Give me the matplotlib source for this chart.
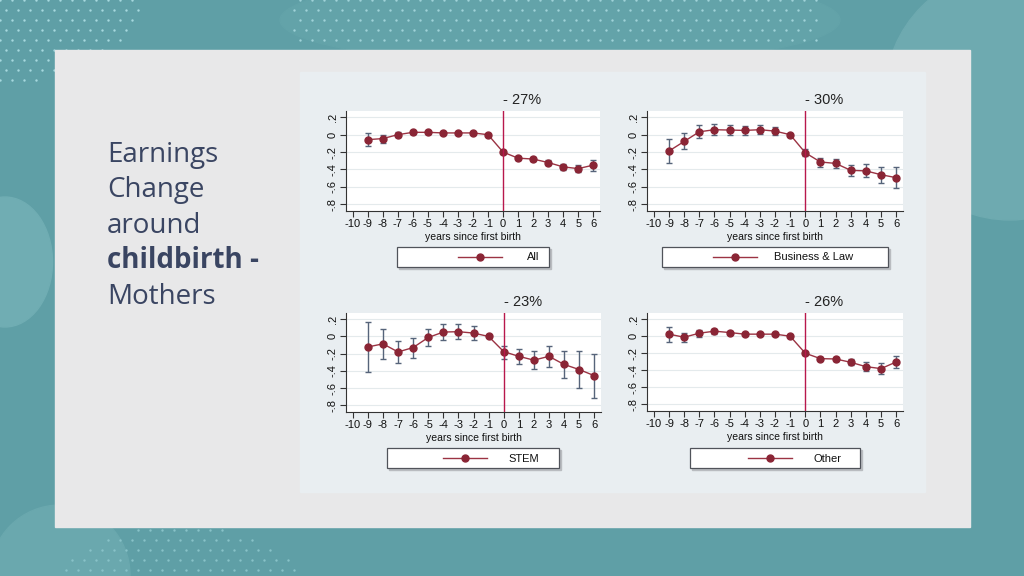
import numpy as np
import matplotlib
matplotlib.use("Agg")
import matplotlib.pyplot as plt
from matplotlib.patches import Rectangle, Circle, Ellipse
from matplotlib.lines import Line2D

# data
years = list(range(-9, 7))

y_all = [-0.057, -0.045, 0.0, 0.027, 0.027, 0.02, 0.02, 0.02, 0.0, -0.20, -0.27, -0.28, -0.32, -0.37, -0.39, -0.35]
lo_all = [-0.13, -0.09, -0.03, 0.005, 0.007, 0.005, 0.005, 0.005, 0.0, -0.22, -0.29, -0.30, -0.345, -0.405, -0.43, -0.42]
hi_all = [0.02, 0.0, 0.03, 0.045, 0.045, 0.035, 0.035, 0.035, 0.0, -0.18, -0.25, -0.26, -0.295, -0.335, -0.35, -0.29]

y_bl = [-0.188, -0.078, 0.033, 0.057, 0.053, 0.049, 0.057, 0.041, 0.0, -0.208, -0.314, -0.33, -0.41, -0.416, -0.46, -0.494]
lo_bl = [-0.327, -0.17, -0.037, -0.004, 0.0, 0.0, 0.008, -0.004, 0.0, -0.249, -0.367, -0.388, -0.478, -0.49, -0.55, -0.616]
hi_bl = [-0.049, 0.02, 0.11, 0.118, 0.11, 0.098, 0.106, 0.086, 0.0, -0.163, -0.27, -0.28, -0.343, -0.335, -0.37, -0.37]

y_st = [-0.122, -0.086, -0.18, -0.129, -0.012, 0.051, 0.055, 0.039, 0.0, -0.176, -0.231, -0.275, -0.231, -0.325, -0.384, -0.455]
lo_st = [-0.408, -0.263, -0.314, -0.247, -0.11, -0.039, -0.027, -0.039, 0.0, -0.259, -0.318, -0.38, -0.353, -0.486, -0.6, -0.714]
hi_st = [0.169, 0.09, -0.051, -0.016, 0.09, 0.149, 0.141, 0.118, 0.0, -0.11, -0.145, -0.169, -0.106, -0.169, -0.169, -0.2]

y_ot = [0.024, -0.012, 0.035, 0.059, 0.043, 0.024, 0.024, 0.024, 0.0, -0.2, -0.263, -0.267, -0.306, -0.357, -0.38, -0.302]
lo_ot = [-0.063, -0.07, -0.008, 0.027, 0.023, 0.009, 0.009, 0.009, 0.0, -0.215, -0.278, -0.287, -0.341, -0.407, -0.44, -0.376]
hi_ot = [0.102, 0.043, 0.078, 0.09, 0.063, 0.039, 0.039, 0.039, 0.0, -0.185, -0.248, -0.247, -0.271, -0.307, -0.32, -0.231]

titles = ["- 27%", "- 30%", "- 23%", "- 26%"]
groups = ["All", "Business & Law", "STEM", "Other"]
xticks = list(range(-10, 7))
yticks = [0.2, 0.0, -0.2, -0.4, -0.6, -0.8]
ytick_labels = [".2", "0", "-.2", "-.4", "-.6", "-.8"]

W, H = 1024, 576
LINE = "#9b3343"
MARK = "#8a2535"
ERR = "#56647a"
VLINE = "#b8184c"
TXT = "#3a4562"

fig = plt.figure(figsize=(W / 100, H / 100), dpi=100)

def box(l, t, r, b):
    return [l / W, 1 - b / H, (r - l) / W, (b - t) / H]

# background slide
bg = fig.add_axes([0, 0, 1, 1])
bg.set_xlim(0, W)
bg.set_ylim(H, 0)
bg.axis("off")
bg.add_patch(Rectangle((0, 0), W, H, color="#5f9fa6", zorder=0))
bg.add_patch(Circle((1010, 95), 125, color="#6eaab0", zorder=1))
bg.add_patch(Ellipse((5, 262), 95, 130, color="#70adb3", zorder=1))
bg.add_patch(Circle((60, 575), 70, color="#6aa8ae", zorder=1))
bg.add_patch(Ellipse((560, 20), 560, 90, color="#63a3a9", zorder=1))

# dotted decoration
gx, gy = np.meshgrid(np.arange(0, W, 12.0), np.arange(0, H, 10.0))
gx = gx + (np.arange(gx.shape[0])[:, None] % 2) * 6
m1 = (gx / 140.0) ** 2 + (gy / 85.0) ** 2 < 1
m2 = (gx > 290) & (gx < 820) & (gy < 50)
m3 = ((gx - 180) ** 2 / 120 ** 2 + (gy - 585) ** 2 / 60 ** 2) < 1
bg.scatter(gx[m1], gy[m1], s=3, color="#a6d8de", lw=0, zorder=2)
bg.scatter(gx[m2], gy[m2], s=3, color="#9fd2d8", lw=0, zorder=2)
bg.scatter(gx[m3], gy[m3], s=3, color="#88c2c8", lw=0, zorder=2)

bg.add_patch(Rectangle((55, 50), 915, 477, color="#e8e8e9", zorder=3))
bg.add_patch(Rectangle((300, 72), 625, 420, color="#e9eef1", zorder=4))

# left text
lines = ["Earnings", "Change", "around", "childbirth -", "Mothers"]
bases = [162, 197, 233, 268, 304]
for s, yb in zip(lines, bases):
    bg.text(107, yb, s, fontsize=20, color=TXT, family="Open Sans",
            fontweight="bold" if s.startswith("child") else "normal",
            va="baseline", ha="left", zorder=6)

# legends (pixel layout): box, line start, line end, text x
legend_pos = [
    ((397, 247, 549, 267), 458, 502, 527),
    ((662, 247, 888, 267), 713, 757, 774),
    ((387, 448, 559, 468), 443, 487, 508),
    ((690, 448, 860, 468), 748, 792, 813),
]
for (bx, l0, l1, tx), name in zip(legend_pos, groups):
    l, t, r, b = bx
    bg.add_patch(Rectangle((l + 1.5, t + 1.5), r - l, b - t, color="#b9bcc0", zorder=5))
    bg.add_patch(Rectangle((l, t), r - l, b - t, facecolor="white", edgecolor="#50535a", lw=0.9, zorder=6))
    yc = (t + b) / 2
    bg.add_line(Line2D([l0, l1], [yc, yc], color=LINE, lw=1, zorder=7))
    bg.plot([(l0 + l1) / 2], [yc], "o", color=MARK, ms=5, zorder=8)
    bg.text(tx, yc + 0.5, name, fontsize=8, family="Liberation Sans", va="center", ha="left", color="#111111", zorder=8)

# plots
axes_pos = [(346, 111, 600, 211), (647, 111, 903, 211), (346, 313, 601, 412), (647, 313, 903, 411)]
series = [(y_all, lo_all, hi_all), (y_bl, lo_bl, hi_bl), (y_st, lo_st, hi_st), (y_ot, lo_ot, hi_ot)]

for pos, (yv, lo, hi), title in zip(axes_pos, series, titles):
    ax = fig.add_axes(box(*pos))
    ax.set_facecolor("white")
    yv = np.array(yv)
    err = [yv - np.array(lo), np.array(hi) - yv]
    ax.errorbar(years, yv, yerr=err, fmt="none", ecolor=ERR, elinewidth=1, capsize=2.5, capthick=1, zorder=3)
    ax.plot(years, yv, "-", color=LINE, lw=1, zorder=4)
    ax.plot(years, yv, "o", color=MARK, ms=5, zorder=5)
    ax.axvline(0, color=VLINE, lw=1, zorder=6)
    ax.set_xlim(-10.45, 6.45)
    ax.set_ylim(-0.877, 0.272)
    ax.set_xticks(xticks)
    ax.set_xticklabels([str(v) for v in xticks], fontsize=8, family="Liberation Sans")
    ax.set_yticks(yticks)
    ax.set_yticklabels(ytick_labels, fontsize=8, family="Liberation Sans", rotation=90, va="center")
    ax.yaxis.grid(True, color="#e4eaec", lw=0.8)
    ax.set_axisbelow(True)
    ax.tick_params(length=4, width=0.8, color="#333333", pad=2, labelcolor="#111111")
    for sp in ["top", "right"]:
        ax.spines[sp].set_visible(False)
    for sp in ["left", "bottom"]:
        ax.spines[sp].set_color("#333333")
        ax.spines[sp].set_linewidth(0.8)
    ax.set_xlabel("years since first birth", fontsize=7.5, family="Liberation Sans", labelpad=2, color="#111111")
    ax.text(0, 1.04, title, transform=ax.get_xaxis_transform(), fontsize=10.5,
            family="Liberation Sans", ha="left", va="bottom", color="#222222")

fig.savefig("out.png", dpi=100)
